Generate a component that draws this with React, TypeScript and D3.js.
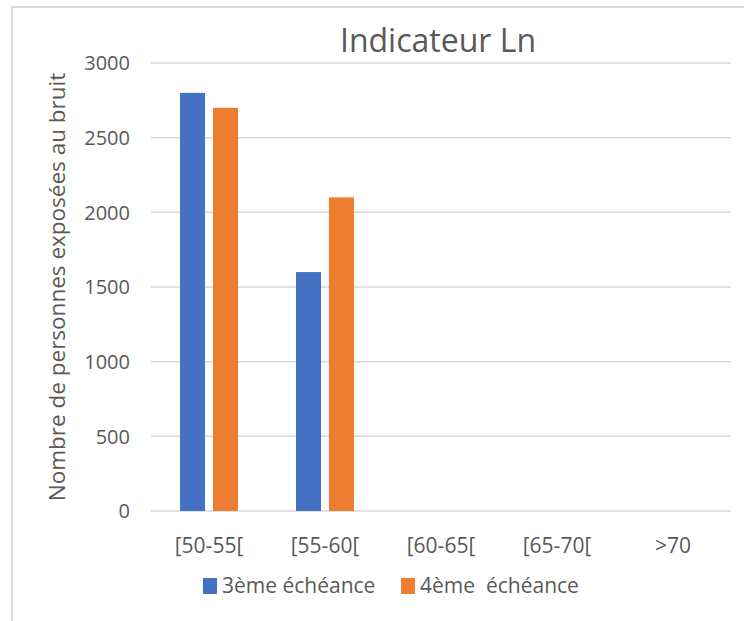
import React, { useRef, useEffect } from 'react'
import * as d3 from 'd3'

const categories = ['[50-55[', '[55-60[', '[60-65[', '[65-70[', '>70']
const seriesNames = ['3ème échéance', '4ème  échéance']
const serie3 = [2800, 1600, 0, 0, 0]
const serie4 = [2700, 2100, 0, 0, 0]
const colors = ['#4472C4', '#ED7D31']
const yTicks = [0, 500, 1000, 1500, 2000, 2500, 3000]

const W = 744
const H = 621
const FONT = '"Open Sans", "Noto Sans", sans-serif'

const App: React.FC = () => {
  const svgRef = useRef<SVGSVGElement>(null)

  useEffect(() => {
    const svg = d3.select(svgRef.current!)
    svg.selectAll('*').remove()

    const margin = { top: 63, right: 13, bottom: 110, left: 151 }
    const innerW = W - margin.left - margin.right
    const innerH = H - margin.top - margin.bottom

    // chart frame (only top and left edges visible)
    svg.append('path')
      .attr('d', `M12,${H} L12,7 L${W},7`)
      .attr('fill', 'none')
      .attr('stroke', '#d9d9d9')
      .attr('stroke-width', 2)

    svg.append('text')
      .attr('x', 438)
      .attr('y', 52)
      .attr('text-anchor', 'middle')
      .style('font-family', FONT)
      .style('font-size', '32px')
      .style('fill', '#595959')
      .text('Indicateur Ln')

    const x = d3.scaleBand<string>().domain(categories).range([0, innerW])
    const xs = d3.scaleBand<string>()
      .domain(seriesNames)
      .range([0, x.bandwidth()])
      .paddingInner(0.24)
      .paddingOuter(0.88)
    const y = d3.scaleLinear().domain([0, 3000]).range([innerH, 0])

    const g = svg.append('g').attr('transform', `translate(${margin.left},${margin.top})`)

    // gridlines
    g.append('g')
      .selectAll('line')
      .data(yTicks)
      .join('line')
      .attr('x1', 0)
      .attr('x2', innerW)
      .attr('y1', d => y(d))
      .attr('y2', d => y(d))
      .attr('stroke', '#d9d9d9')
      .attr('stroke-width', 1.5)

    // y tick labels
    g.append('g')
      .selectAll('text')
      .data(yTicks)
      .join('text')
      .attr('x', -21)
      .attr('y', d => y(d))
      .attr('dy', '0.36em')
      .attr('text-anchor', 'end')
      .style('font-family', FONT)
      .style('font-size', '20px')
      .style('fill', '#595959')
      .text(d => d)

    // bars
    const all = [serie3, serie4]
    all.forEach((vals, si) => {
      g.append('g')
        .selectAll('rect')
        .data(vals)
        .join('rect')
        .attr('x', (_, i) => x(categories[i])! + xs(seriesNames[si])!)
        .attr('y', d => y(d))
        .attr('width', xs.bandwidth())
        .attr('height', d => innerH - y(d))
        .attr('fill', colors[si])
    })

    // category labels
    g.append('g')
      .selectAll('text')
      .data(categories)
      .join('text')
      .attr('x', d => x(d)! + x.bandwidth() / 2)
      .attr('y', innerH + 42)
      .attr('text-anchor', 'middle')
      .style('font-family', FONT)
      .style('font-size', '21px')
      .style('fill', '#595959')
      .text(d => d)

    // y axis title
    svg.append('text')
      .attr('transform', `translate(65,${margin.top + innerH / 2}) rotate(-90)`)
      .attr('text-anchor', 'middle')
      .style('font-family', FONT)
      .style('font-size', '22.5px')
      .style('fill', '#595959')
      .text('Nombre de personnes exposées au bruit')

    // legend
    const legendX = [203, 401]
    seriesNames.forEach((name, i) => {
      const lg = svg.append('g').attr('transform', `translate(${legendX[i]},578)`)
      lg.append('rect').attr('width', 14).attr('height', 16).attr('fill', colors[i])
      lg.append('text')
        .attr('x', 19)
        .attr('y', 15)
        .style('font-family', FONT)
        .style('font-size', '21px')
        .style('fill', '#595959')
        .style('white-space', 'pre')
        .text(name)
    })
  }, [])

  return (
    <svg
      ref={svgRef}
      width={W}
      height={H}
      style={{ position: 'absolute', left: 0, top: 0, background: '#fff' }}
    />
  )
}

export default App
